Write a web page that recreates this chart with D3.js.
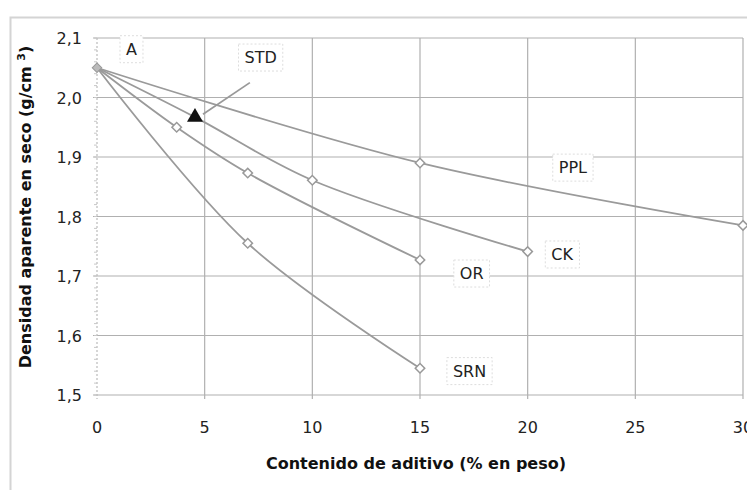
<!DOCTYPE html>
<html><head><meta charset="utf-8">
<script src="https://cdn.jsdelivr.net/npm/d3@7"></script>
<style>
body{margin:0;background:#fff;}
text{font-family:"DejaVu Sans","Liberation Sans",Arial,sans-serif;}
</style></head>
<body><svg id="c" width="747" height="490"></svg>
<script>
const xTicks = [0,5,10,15,20,25,30];
const yTicks = [1.5,1.6,1.7,1.8,1.9,2.0,2.1];
const pplX = [0,15,30];
const pplY = [2.05,1.89,1.785];
const ckX = [0,4.55,10,20];
const ckY = [2.05,1.967,1.861,1.741];
const orX = [0,3.7,7,15];
const orY = [2.05,1.95,1.873,1.727];
const srnX = [0,7,15];
const srnY = [2.05,1.755,1.545];
const stdPoint = [4.55,1.967];
const originPoint = [0,2.05];
const labels = [
  {t:"A", x:1.6, y:2.082},
  {t:"STD", x:7.6, y:2.068},
  {t:"PPL", x:22.1, y:1.883},
  {t:"CK", x:21.6, y:1.737},
  {t:"OR", x:17.4, y:1.705},
  {t:"SRN", x:17.3, y:1.541}
];

const svg = d3.select("#c");
const x = d3.scaleLinear().domain([0,30]).range([97,743]);
const y = d3.scaleLinear().domain([1.5,2.1]).range([395,38]);

// outer frame
svg.append("rect").attr("x",10.5).attr("y",17.5).attr("width",760).attr("height",500)
  .attr("fill","none").attr("stroke","#d4d4d4").attr("stroke-width",2);

// gridlines
svg.append("g").selectAll("line").data(yTicks).join("line")
  .attr("x1",93).attr("x2",743).attr("y1",d=>y(d)).attr("y2",d=>y(d))
  .attr("stroke","#b0b0b0").attr("stroke-width",1.2);
svg.append("g").selectAll("line").data(xTicks.slice(1)).join("line")
  .attr("x1",d=>x(d)).attr("x2",d=>x(d)).attr("y1",y(2.1)).attr("y2",y(1.5)+4)
  .attr("stroke","#b0b0b0").attr("stroke-width",1.2);
// left axis (dotted)
svg.append("line").attr("x1",x(0)).attr("x2",x(0)).attr("y1",y(2.1)).attr("y2",y(1.5)+4)
  .attr("stroke","#bbb").attr("stroke-width",1.2).attr("stroke-dasharray","2,2");
// minor ticks on left axis
const minor = d3.range(1.5,2.1001,0.02);
svg.append("g").selectAll("line").data(minor).join("line")
  .attr("x1",x(0)-3).attr("x2",x(0)).attr("y1",d=>y(d)).attr("y2",d=>y(d))
  .attr("stroke","#c8c8c8");

// axis tick labels
const fmt = d3.format(".1f");
svg.append("g").selectAll("text").data(yTicks).join("text")
  .attr("x",82).attr("y",d=>y(d)+6).attr("text-anchor","end")
  .attr("font-size",16).attr("fill","#222").text(d=>fmt(d).replace(".",","));
svg.append("g").selectAll("text").data(xTicks).join("text")
  .attr("x",d=>x(d)).attr("y",433).attr("text-anchor","middle")
  .attr("font-size",16).attr("fill","#222").text(d=>d);

// axis titles
svg.append("text").attr("x",416).attr("y",469).attr("text-anchor","middle")
  .attr("font-size",16).attr("font-weight","bold").attr("fill","#111")
  .text("Contenido de aditivo (% en peso)");
const yt = svg.append("text").attr("transform","translate(31,207) rotate(-90)")
  .attr("text-anchor","middle").attr("font-size",16).attr("font-weight","bold").attr("fill","#111");
yt.append("tspan").text("Densidad aparente en seco (g/cm ");
yt.append("tspan").attr("dy",-6).attr("font-size",11).text("3");
yt.append("tspan").attr("dy",6).text(")");

// series lines
const line = d3.line().x(d=>x(d[0])).y(d=>y(d[1])).curve(d3.curveCatmullRom.alpha(0.5));
const marker = d3.symbol(d3.symbolSquare,45)();
const series = [[pplX,pplY,null],[ckX,ckY,4.55],[orX,orY,null],[srnX,srnY,null]];
series.forEach(([xs,ys,skip])=>{
  const pts = xs.map((v,i)=>[v,ys[i]]);
  svg.append("path").datum(pts).attr("d",line).attr("fill","none")
    .attr("stroke","#9a9a9a").attr("stroke-width",1.8);
  svg.append("g").selectAll("path").data(pts.slice(1).filter(p=>p[0]!==skip)).join("path")
    .attr("transform",d=>`translate(${x(d[0])},${y(d[1])}) rotate(45)`)
    .attr("d",marker)
    .attr("fill","#fff").attr("stroke","#999").attr("stroke-width",1.5);
});

// origin marker
svg.append("path").attr("transform",`translate(${x(originPoint[0])},${y(originPoint[1])}) rotate(45)`)
  .attr("d",marker).attr("fill","#bbb").attr("stroke","#999");

// STD leader line and triangle
svg.append("line").attr("x1",x(stdPoint[0])+8).attr("y1",y(stdPoint[1])-3)
  .attr("x2",x(7.1)).attr("y2",y(2.025)).attr("stroke","#999").attr("stroke-width",1.8);
svg.append("path").attr("transform",`translate(${x(stdPoint[0])},${y(stdPoint[1])})`)
  .attr("d",d3.symbol(d3.symbolTriangle,110)()).attr("fill","#111");

// labels
labels.forEach(l=>{
  const g = svg.append("g");
  const t = g.append("text").attr("x",x(l.x)).attr("y",y(l.y)+6).attr("text-anchor","middle")
    .attr("font-size",16).attr("fill","#222").text(l.t);
  const bb = t.node().getBBox();
  g.insert("rect","text").attr("x",bb.x-6).attr("y",bb.y-4).attr("width",bb.width+12).attr("height",bb.height+8)
    .attr("fill","#fff").attr("stroke","#ddd").attr("stroke-dasharray","2,2");
});
</script></body></html>
